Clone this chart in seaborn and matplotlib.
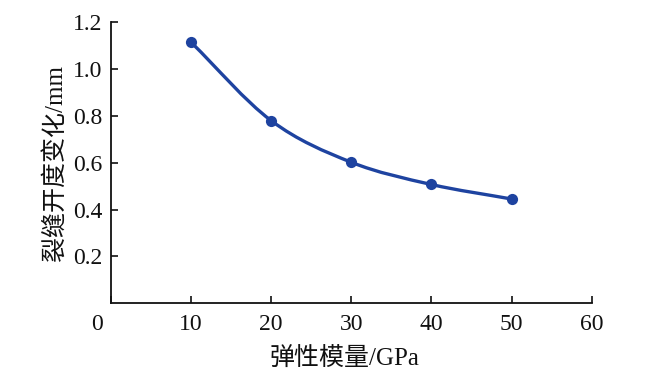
import numpy as np
import pandas as pd
import matplotlib
matplotlib.use("Agg")
import matplotlib.pyplot as plt
import matplotlib.transforms as mtransforms
from matplotlib.path import Path
from matplotlib.patches import PathPatch
import seaborn as sns

# ---------------- dados ----------------
modulo = [10, 20, 30, 40, 50]                     # 弹性模量 / GPa
abertura = [1.115, 0.78, 0.602, 0.507, 0.445]     # 裂缝开度变化 / mm
x_ticks = [0, 10, 20, 30, 40, 50, 60]
y_ticks = [0.2, 0.4, 0.6, 0.8, 1.0, 1.2]

cor = "#1E43A0"

sns.set_theme(style="ticks")
plt.rcParams["font.family"] = ["Liberation Serif", "Noto Sans CJK SC"]

df = pd.DataFrame({"x": modulo, "y": abertura})

fig = plt.figure(figsize=(6.56, 3.78), dpi=100)
ax = fig.add_axes([0.169, 0.198, 0.733, 0.743])

# curva suave (Catmull-Rom -> Bezier) passando pelos pontos
xs = np.array(modulo, dtype=float)
ys = np.array(abertura, dtype=float)
px = np.concatenate([[2 * xs[0] - xs[1]], xs, [2 * xs[-1] - xs[-2]]])
py = np.concatenate([[2 * ys[0] - ys[1]], ys, [2 * ys[-1] - ys[-2]]])
verts = [(xs[0], ys[0])]
codes = [Path.MOVETO]
for i in range(1, len(px) - 2):
    c1 = (px[i] + (px[i + 1] - px[i - 1]) / 6, py[i] + (py[i + 1] - py[i - 1]) / 6)
    c2 = (px[i + 1] - (px[i + 2] - px[i]) / 6, py[i + 1] - (py[i + 2] - py[i]) / 6)
    verts += [c1, c2, (px[i + 1], py[i + 1])]
    codes += [Path.CURVE4] * 3
ax.add_patch(PathPatch(Path(verts, codes), fill=False, edgecolor=cor, lw=2.4,
                       capstyle="round"))

sns.scatterplot(data=df, x="x", y="y", ax=ax, color=cor, s=65,
                edgecolor=cor, linewidth=0, zorder=3)

ax.set_xlim(0, 60)
ax.set_ylim(0, 1.2)
ax.set_xticks(x_ticks)
ax.set_yticks(y_ticks)
ax.set_xticklabels([str(v) for v in x_ticks])
ax.set_yticklabels([f"{v:.1f}" for v in y_ticks])

ax.tick_params(axis="both", direction="in", length=5, width=1.2,
               labelsize=17, colors="#111111")
ax.tick_params(axis="x", pad=8)
ax.tick_params(axis="y", pad=6)

# o "0" da origem fica um pouco à esquerda
lab0 = ax.get_xticklabels()[0]
lab0.set_transform(lab0.get_transform() +
                   mtransforms.ScaledTranslation(-10 / 72, 0, fig.dpi_scale_trans))

for s in ["top", "right"]:
    ax.spines[s].set_visible(False)
for s in ["left", "bottom"]:
    ax.spines[s].set_linewidth(1.3)
    ax.spines[s].set_color("#111111")

ax.set_xlabel("弹性模量/GPa", fontsize=18, labelpad=2, color="#111111")
ax.xaxis.set_label_coords(0.485, -0.16)
ax.set_ylabel("裂缝开度变化/mm", fontsize=18, labelpad=5, color="#111111")

fig.savefig("out.png", dpi=100, facecolor="white")
